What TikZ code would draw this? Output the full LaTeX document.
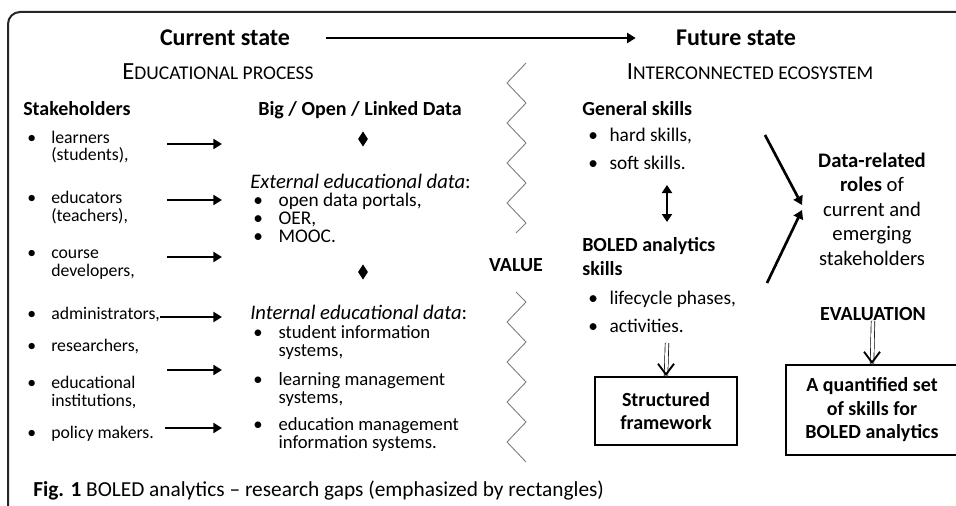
\documentclass[tikz,border=0pt]{standalone}
\usepackage{fontspec}
\setmainfont{Carlito}
\usetikzlibrary{arrows.meta,shapes.geometric}
\newcommand{\bul}[2][18pt]{\makebox[#1][l]{\textbullet}#2}
\newcommand{\ind}[1][18pt]{\hspace*{#1}}
\newcommand{\fsc}[2]{{\fontsize{18.5}{20}\selectfont #1}{\fontsize{14.6}{16}\selectfont #2}}

\begin{document}
\begin{tikzpicture}[
  x=0.75pt, y=-0.75pt,
  txt/.style={anchor=base west, inner sep=0pt, align=left, font=\fontsize{13.3}{13}\selectfont},
  midtxt/.style={txt, font=\fontsize{14.5}{13.3}\selectfont},
  rtxt/.style={txt, font=\fontsize{14.5}{17}\selectfont},
  head/.style={anchor=base west, inner sep=0pt, align=left, font=\fontsize{15}{17.3}\selectfont\bfseries},
  title/.style={inner sep=0pt, font=\fontsize{18}{20}\selectfont\bfseries},
  bigarrow/.style={line width=2pt, -{Triangle[length=6.5pt,width=7.5pt]}},
  dshaft/.style={double, line width=0.5pt, double distance=2.2pt},
  vhead/.style={line width=1.4pt, -{Straight Barb[length=8pt,width=12pt]}},
  zig/.style={black!50, line width=0.7pt},
  diam/.style={diamond, fill=black, inner sep=0pt, minimum width=7.5pt, minimum height=11.5pt},
  gapbox/.style={draw, line width=1.5pt, align=center, inner sep=0pt, font=\fontsize{15}{17.6}\selectfont\bfseries},
]
  \clip (0,0) rectangle (956,506);
  \draw[black!85, line width=1.5pt, rounded corners=9pt] (8,12) rectangle (980,520);

  \node[title] (cur) at (225,38) {Current state};
  \node[title] (fut) at (736,38) {Future state};
  \draw[bigarrow] ([xshift=27pt]cur.east) -- ([xshift=-30pt]fut.west);
  \node[inner sep=0pt] (edu) at (218,72) {\fsc{E}{DUCATIONAL PROCESS}};
  \node[inner sep=0pt] (eco) at (750,72) {\fsc{I}{NTERCONNECTED ECOSYSTEM}};

  \node[head] (stake) at (23,116) {Stakeholders};
  \node[txt] (s1) at (27,161) {\bul{learners}\\\ind(students),};
  \node[txt] (s2) at (27,221) {\bul{educators}\\\ind(teachers),};
  \node[txt] (s3) at (27,276) {\bul{course}\\\ind developers,};
  \node[txt] (s4) at (27,319) {\bul{administrators,}};
  \node[txt] (s5) at (27,351) {\bul{researchers,}};
  \node[txt] (s6) at (27,406) {\bul{educational}\\\ind institutions,};
  \node[txt] (s7) at (27,438) {\bul{policy makers.}};
  \foreach \y/\xs [count=\i] in {144/167,200/167,257/167,317/160,370/167,428/165}{
    \coordinate (a\i) at (\xs,\y);
    \coordinate (b\i) at (222,\y);
    \draw[bigarrow] (a\i) -- (b\i);
  }

  \node[head, anchor=base] (bold) at (360,116) {Big / Open / Linked Data};
  \node[diam] (d1) at (363,139) {};
  \node[midtxt, font=\fontsize{15.5}{13.5}\selectfont] (ext) at (250,188) {\textit{External educational data}:};
  \node[midtxt] (m1) at (253,242) {\bul[19pt]{open data portals,}\\\bul[19pt]{OER,}\\\bul[19pt]{MOOC.}};
  \node[diam] (d2) at (363,272) {};
  \node[midtxt, font=\fontsize{15.5}{13.5}\selectfont] (int) at (250,319) {\textit{Internal educational data}:};
  \node[midtxt, font=\fontsize{14}{13.5}\selectfont] (i1) at (253,356) {\bul[19pt]{student information}\\\ind[19pt]systems,};
  \node[midtxt, font=\fontsize{14}{13.5}\selectfont] (i2) at (253,403) {\bul[19pt]{learning management}\\\ind[19pt]systems,};
  \node[midtxt, font=\fontsize{14}{13.5}\selectfont] (i3) at (253,448) {\bul[19pt]{education management}\\\ind[19pt]information systems.};

  \draw[zig] (526,63) \foreach \k in {1,...,4}{ -- ++(-19,20) -- ++(19,20)} -- ++(-10,10);
  \node[head, anchor=center] (val) at (516,265) {VALUE};
  \draw[zig] (516,292) -- ++(10,10) \foreach \k in {1,...,4}{ -- ++(-19,20) -- ++(19,20)};

  \node[head] (gen) at (582,116) {General skills};
  \node[rtxt] (g1) at (588,142) {\bul[16pt]{hard skills,}};
  \node[rtxt] (g2) at (588,170) {\bul[16pt]{soft skills.}};
  \coordinate (gt) at (667,185);
  \coordinate (gb) at (667,222);
  \draw[line width=2pt, {Triangle[length=6pt,width=7.5pt]}-{Triangle[length=6pt,width=7.5pt]}] (gt) -- (gb);
  \node[head] (bsk) at (582,275) {BOLED analytics\\skills};
  \node[rtxt] (l1) at (588,304) {\bul[16pt]{lifecycle phases,}};
  \node[rtxt] (l2) at (588,332) {\bul[16pt]{activities.}};
  \node[gapbox, minimum width=106.5pt, minimum height=51pt] (sf) at (666,411) {Structured\\framework};
  \draw[dshaft] (667,343) -- (sf.north);
  \draw[vhead] ([yshift=1pt]sf.north) -- (sf.north);

  \node[align=center, inner sep=0pt, font=\fontsize{15.5}{18.4}\selectfont] (roles) at (872,209)
    {\textbf{Data-related}\\\textbf{roles} of\\current and\\emerging\\stakeholders};
  \coordinate (c1) at (765,135);
  \coordinate (c2) at (767,283);
  \coordinate (c3) at (802,205);
  \coordinate (c4) at (802,210);
  \draw[bigarrow] (c1) -- (c3);
  \draw[bigarrow] (c2) -- (c4);
  \node[head, anchor=center] (evl) at (873,314) {EVALUATION};
  \draw[double, line width=0.4pt, double distance=1.3pt] (874,278) -- (874,290);
  \node[gapbox, minimum width=129pt, minimum height=67.5pt] (qs) at (872,410)
    {A quantified set\\of skills for\\BOLED analytics};
  \draw[dshaft] (evl.south) -- (qs.north);
  \draw[vhead] ([yshift=1pt]qs.north) -- (qs.north);

  \node[anchor=base west, inner sep=0pt, font=\fontsize{16}{17}\selectfont] (cap) at (33,496)
    {\textbf{Fig. 1} BOLED analytics -- research gaps (emphasized by rectangles)};
\end{tikzpicture}
\end{document}
